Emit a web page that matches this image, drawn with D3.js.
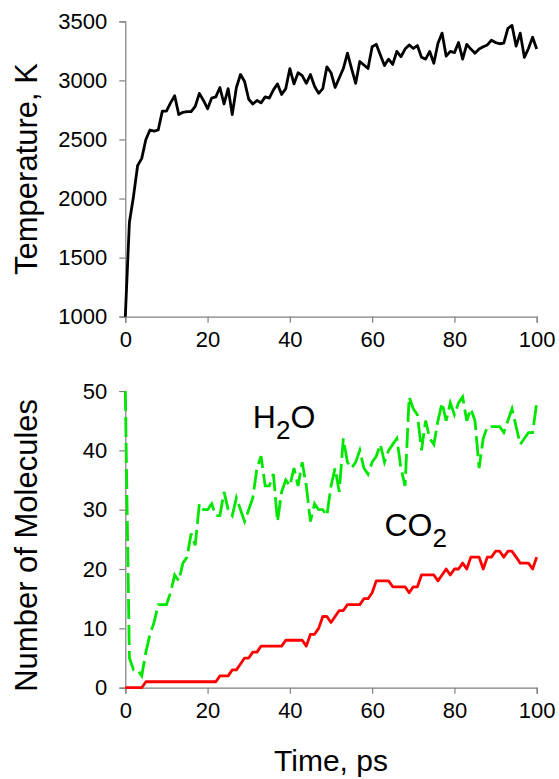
<!DOCTYPE html>
<html>
<head>
<meta charset="utf-8">
<script src="https://cdn.jsdelivr.net/npm/d3@7"></script>
<style>
  body { margin: 0; background: #fff; }
  svg { display: block; font-family: "Liberation Sans", Arial, sans-serif; }
  .axis path, .axis line { stroke: #808080; stroke-width: 1.2; }
  .axis text { font-size: 22px; fill: #000; }
</style>
</head>
<body>
<div id="chart"></div>
<script>
// time in ps, one sample per ps
var time = d3.range(0, 101);

var temperature = [
  1000, 1800, 2020, 2280, 2340, 2500, 2580, 2570, 2580, 2740,
  2740, 2810, 2870, 2710, 2730, 2735, 2735, 2780, 2890, 2830,
  2760, 2850, 2860, 2940, 2800, 2930, 2710, 2940, 3050, 2990,
  2840, 2800, 2830, 2810, 2860, 2850, 2920, 2970, 2880, 2930,
  3100, 2970, 3065, 3040, 2975, 3050, 2950, 2890, 2930, 3115,
  3065, 2940, 3020, 3100, 3230, 3100, 2975, 3160, 3130, 3100,
  3285, 3305, 3215, 3125, 3180, 3135, 3245, 3200, 3265, 3300,
  3270, 3295, 3195, 3180, 3245, 3145, 3315, 3400, 3205, 3245,
  3235, 3320, 3180, 3305, 3265, 3230, 3265, 3285, 3300, 3340,
  3320, 3310, 3315, 3440, 3465, 3290, 3400, 3195, 3270, 3365,
  3265
];

var h2o = [
  50, 5, 3, 3, 2, 6, 9, 11, 14, 14,
  14, 16, 19, 18, 21, 22, 26, 24, 31, 30,
  30, 31, 29, 29, 33, 30, 29, 32, 30, 28,
  30, 32, 37, 39, 34, 34, 36, 28, 33, 35,
  34, 37, 34, 38, 34, 28, 31, 30, 30, 29,
  34, 37, 33, 42, 38, 37, 38, 40, 37, 36,
  38, 39, 41, 38, 40, 41, 42, 37, 34, 49,
  47, 46, 40, 45, 42, 41, 45, 48, 45, 48,
  46, 48, 49, 45, 47, 45, 37, 42, 44, 44,
  44, 44, 43, 45, 47, 44, 41, 42, 43, 43,
  48
];

var co2 = [
  0, 0, 0, 0, 0, 1, 1, 1, 1, 1,
  1, 1, 1, 1, 1, 1, 1, 1, 1, 1,
  1, 1, 1, 2, 2, 2, 3, 3, 4, 5,
  5, 6, 6, 7, 7, 7, 7, 7, 7, 8,
  8, 8, 8, 8, 7, 9, 9, 10, 12, 12,
  11, 12, 13, 13, 14, 14, 14, 14, 15, 15,
  16, 18, 18, 18, 18, 17, 17, 17, 17, 16,
  17, 17, 19, 19, 19, 19, 18, 19, 20, 19,
  20, 20, 21, 20, 22, 22, 22, 20, 22, 22,
  23, 23, 22, 23, 23, 22, 21, 21, 21, 20,
  22
];

var timeTicks = [0, 20, 40, 60, 80, 100];
var tempTicks = [1000, 1500, 2000, 2500, 3000, 3500];
var molTicks = [0, 10, 20, 30, 40, 50];

var width = 559, height = 779;
var svg = d3.select("#chart").append("svg")
    .attr("width", width)
    .attr("height", height);

// both panels share the same x range
var x = d3.scaleLinear().domain([0, 100]).range([125.3, 536.7]);
var yTemp = d3.scaleLinear().domain([1000, 3500]).range([316.7, 21.3]);
var yMol = d3.scaleLinear().domain([0, 50]).range([687.7, 391]);

function drawAxes(y, ticks, bottom) {
    svg.append("g")
        .attr("class", "axis")
        .attr("transform", "translate(0," + bottom + ")")
        .call(d3.axisBottom(x).tickValues(timeTicks).tickFormat(d3.format("d"))
            .tickSize(6).tickPadding(9).tickSizeOuter(6))
        .selectAll("text").attr("dy", "0.71em");
    svg.append("g")
        .attr("class", "axis")
        .attr("transform", "translate(" + x(0) + ",0)")
        .call(d3.axisLeft(y).tickValues(ticks).tickFormat(d3.format("d"))
            .tickSize(6).tickPadding(12).tickSizeOuter(6));
}

drawAxes(yTemp, tempTicks, yTemp(1000));
drawAxes(yMol, molTicks, yMol(0));

// top panel: temperature
var tempLine = d3.line()
    .x(function(d, i) { return x(time[i]); })
    .y(function(d) { return yTemp(d); });
svg.append("path")
    .datum(temperature)
    .attr("fill", "none")
    .attr("stroke", "#000")
    .attr("stroke-width", 2.8)
    .attr("stroke-linejoin", "round")
    .attr("d", tempLine);

// bottom panel: molecule counts
var molLine = d3.line()
    .x(function(d, i) { return x(time[i]); })
    .y(function(d) { return yMol(d); });
svg.append("path")
    .datum(co2)
    .attr("fill", "none")
    .attr("stroke", "#ff0000")
    .attr("stroke-width", 2.8)
    .attr("stroke-linejoin", "round")
    .attr("d", molLine);
svg.append("path")
    .datum(h2o)
    .attr("fill", "none")
    .attr("stroke", "#00e600")
    .attr("stroke-width", 2.8)
    .attr("stroke-dasharray", "20,6")
    .attr("d", molLine);

// axis titles
svg.append("text")
    .attr("transform", "translate(37," + yTemp(2250) + ") rotate(-90)")
    .attr("text-anchor", "middle")
    .style("font-size", "31px")
    .text("Temperature, K");
svg.append("text")
    .attr("transform", "translate(37," + (yMol(25) + 6) + ") rotate(-90)")
    .attr("text-anchor", "middle")
    .style("font-size", "31px")
    .text("Number of Molecules");
svg.append("text")
    .attr("x", x(50))
    .attr("y", 771)
    .attr("text-anchor", "middle")
    .style("font-size", "30px")
    .text("Time, ps");

// series labels with subscripts
function chemLabel(px, py, a, sub, b) {
    var t = svg.append("text")
        .attr("x", px)
        .attr("y", py)
        .style("font-size", "32px");
    t.append("tspan").text(a);
    t.append("tspan").attr("dy", 11).style("font-size", "26px").text(sub);
    t.append("tspan").attr("dy", -11).text(b);
}
chemLabel(x(31), 428, "H", "2", "O");
chemLabel(x(63), 536, "CO", "2", "");
</script>
</body>
</html>
